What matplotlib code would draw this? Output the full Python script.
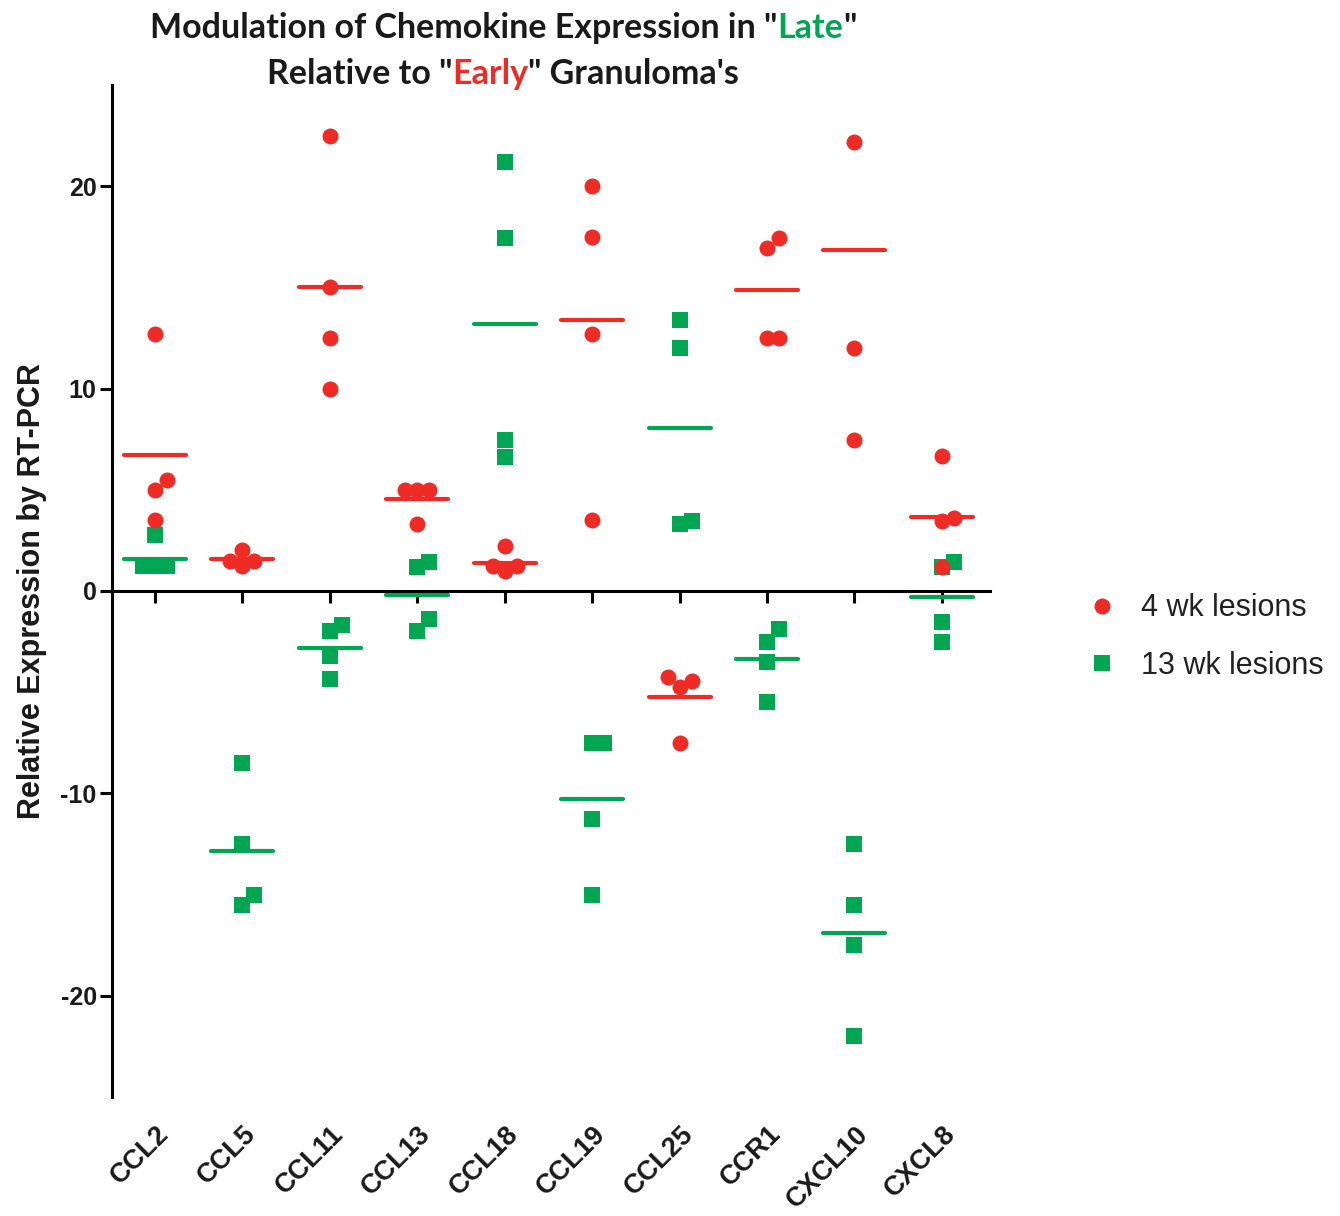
import matplotlib
matplotlib.use("Agg")
import matplotlib.pyplot as plt
from matplotlib.lines import Line2D
import numpy as np

GENES = ["CCL2", "CCL5", "CCL11", "CCL13", "CCL18",
         "CCL19", "CCL25", "CCR1", "CXCL10", "CXCL8"]

# 4 wk lesions (early)
WK4 = [
    [12.7, 5.5, 5.0, 3.5],
    [2.05, 1.5, 1.25, 1.5],
    [22.5, 15.0, 12.5, 10.0],
    [5.0, 5.0, 5.0, 3.3],
    [2.2, 1.25, 1.0, 1.25],
    [20.0, 17.5, 12.7, 3.5],
    [-4.25, -4.45, -4.75, -7.5],
    [17.45, 16.95, 12.5, 12.5],
    [22.2, 12.0, 7.45],
    [6.65, 3.6, 3.45, 1.2],
]
WK4_MEANS = [6.7, 1.6, 15.0, 4.55, 1.4, 13.4, -5.25, 14.85, 16.85, 3.65]

# 13 wk lesions (late)
WK13 = [
    [2.75, 1.25, 1.25, 1.25],
    [-8.5, -12.5, -15.0, -15.5],
    [-1.7, -2.0, -3.2, -4.35],
    [1.45, 1.2, -1.4, -2.0],
    [21.2, 17.45, 7.45, 6.6],
    [-7.5, -7.5, -11.25, -15.0],
    [13.4, 12.0, 3.45, 3.3],
    [-1.9, -2.5, -3.5, -5.5],
    [-12.5, -15.5, -17.5, -22.0],
    [1.45, 1.2, -1.55, -2.5],
]
WK13_MEANS = [1.6, -12.85, -2.8, -0.2, 13.2, -10.3, 8.05, -3.35, -16.9, -0.3]

RED = "#ee2b24"
GREEN = "#00a651"
INK = "#1a1a1a"
FONT = "Liberation Sans"


def swarm_offsets(values, px_x, px_y, step=12.0, min_dy=14.0):
    """Spread points that would overlap, in pixel space, like a column scatter."""
    placed = []
    offsets = np.zeros(len(values))
    order = np.argsort(values)
    for idx in order:
        y = values[idx] * px_y
        for k in [0, 1, -1, 2, -2, 3, -3]:
            x = k * step
            if all(abs(x - px) >= step * 0.9 or abs(y - py) >= min_dy for px, py in placed):
                break
        placed.append((x, y))
        offsets[idx] = x / px_x
    return offsets


def colored_line(fig, y, parts, cx, **kw):
    texts = [fig.text(0, y, s, color=c, ha="left", va="baseline", **kw) for s, c in parts]
    renderer = fig.canvas.get_renderer()
    widths = [t.get_window_extent(renderer).width for t in texts]
    fig_w = fig.bbox.width
    x = cx * fig_w - sum(widths) / 2
    for t, w in zip(texts, widths):
        t.set_x(x / fig_w)
        x += w


def main() -> None:
    fig = plt.figure(figsize=(13.4, 12.16), dpi=100)
    ax = fig.add_axes([112 / 1340, 1 - 1097 / 1216, (990 - 112) / 1340, (1097 - 85) / 1216])
    ax.set_xlim(-0.49, 9.55)
    ax.set_ylim(-25, 25)

    fig.canvas.draw()
    bbox = ax.get_window_extent()
    px_x = bbox.width / (9.55 + 0.49)
    px_y = bbox.height / 50.0

    half = 0.355
    for i in range(len(GENES)):
        r = np.array(WK4[i])
        g = np.array(WK13[i])
        ax.plot(i + swarm_offsets(r, px_x, px_y), r, "o", color=RED, ms=11.5, mew=0, zorder=3)
        ax.plot(i + swarm_offsets(g, px_x, px_y), g, "s", color=GREEN, ms=11, mew=0, zorder=2)
        ax.plot([i - half, i + half], [WK4_MEANS[i]] * 2, color=RED, lw=3, solid_capstyle="round", zorder=4)
        ax.plot([i - half, i + half], [WK13_MEANS[i]] * 2, color=GREEN, lw=3, solid_capstyle="round", zorder=4)

    for side in ["top", "right"]:
        ax.spines[side].set_visible(False)
    ax.spines["bottom"].set_position(("data", 0))
    ax.spines["left"].set_linewidth(2.2)
    ax.spines["bottom"].set_linewidth(2.2)

    ax.set_xticks(range(len(GENES)))
    ax.set_xticklabels([])
    ax.tick_params(axis="x", direction="out", length=8.5, width=2.2)
    ax.set_yticks([-20, -10, 0, 10, 20])
    ax.set_yticklabels(["-20", "-10", "0", "10", "20"], fontfamily=FONT, fontweight="bold", fontsize=18,
                       color=INK)
    ax.tick_params(axis="y", direction="out", length=9, width=2.2, pad=2)

    trans = ax.get_xaxis_transform()
    for i, name in enumerate(GENES):
        ax.text(i + 0.11, -0.033, name, transform=trans, rotation=45, rotation_mode="anchor",
                ha="right", va="center", fontfamily=FONT, fontweight="bold", fontsize=19.5,
                color=INK)

    ax.set_ylabel("Relative Expression by RT-PCR", fontfamily=FONT, fontweight="bold", fontsize=22,
                  labelpad=10, color=INK)

    title_kw = dict(fontfamily="Lato", fontweight="bold", fontsize=24.5)
    colored_line(fig, 1 - 38 / 1216, [('Modulation of Chemokine Expression in "', INK),
                                      ("Late", GREEN), ('"', INK)], 503 / 1340, **title_kw)
    colored_line(fig, 1 - 84 / 1216, [('Relative to "', INK), ("Early", RED),
                                      ('" Granuloma\'s', INK)], 503 / 1340, **title_kw)

    handles = [
        Line2D([], [], marker="o", color=RED, ls="none", ms=11.5, mew=0, label="4 wk lesions"),
        Line2D([], [], marker="s", color=GREEN, ls="none", ms=11, mew=0, label="13 wk lesions"),
    ]
    fig.legend(handles=handles, loc="center left", bbox_to_anchor=(1052 / 1340, 1 - 637 / 1216),
               frameon=False, prop={"family": FONT, "size": 22}, handletextpad=0.55,
               handlelength=1.45, labelspacing=0.9, labelcolor="#222222")

    fig.savefig("out.png", dpi=100)


if __name__ == "__main__":
    main()
